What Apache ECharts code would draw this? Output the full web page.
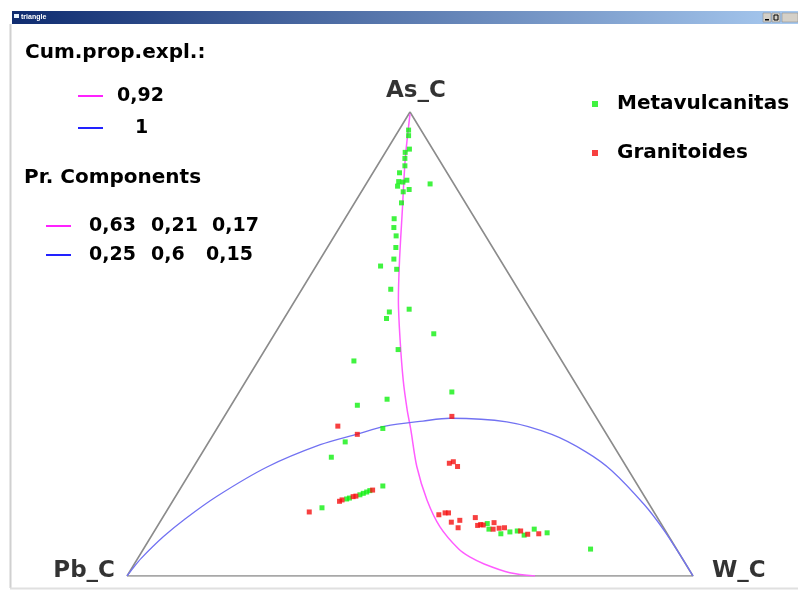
<!DOCTYPE html>
<html>
<head>
<meta charset="utf-8">
<script src="https://cdn.jsdelivr.net/npm/echarts@6/dist/echarts.min.js"></script>
<style>html,body{margin:0;padding:0;background:#fff;}#main{width:798px;height:592px;}</style>
</head>
<body>
<div id="main"></div>
<script>
// Vertex (component) names: [As, Pb, W]
const vertexNames = ['As_C', 'Pb_C', 'W_C'];
const seriesNames = ['Metavulcanitas', 'Granitoides'];
const windowTitle = 'triangle';
const cumPropTitle = 'Cum.prop.expl.:';
const cumPropExpl = ['0,92', '1'];
const prCompTitle = 'Pr. Components';
const prComponents = [['0,63', '0,21', '0,17'], ['0,25', '0,6', '0,15']];

// Compositions in percent: [As, Pb, W]
const metavulcanitas = [
  [96.1,2.2,1.7],[94.9,2.8,2.3],[92.0,4.1,3.9],[91.3,5.2,3.5],[90.0,5.9,4.1],[88.4,6.7,4.9],
  [86.9,8.4,4.7],[85.3,7.9,6.8],[84.9,8.8,6.3],[85.0,9.5,5.5],[84.1,10.2,5.8],[83.3,8.5,8.2],
  [82.8,9.8,7.4],[84.5,4.2,11.3],[80.5,11.3,8.3],[77.0,14.3,8.7],[75.1,15.3,9.6],[73.3,15.8,10.9],
  [70.8,17.1,12.1],[68.3,18.7,13.0],[66.8,21.8,11.4],[66.1,19.3,14.6],[61.8,22.5,15.7],[56.9,25.2,17.9],
  [57.5,21.4,21.1],[55.5,26.4,18.1],[52.2,19.7,28.1],[48.8,27.7,23.5],[46.3,36.7,16.9],[39.7,22.8,37.6],
  [36.8,40.9,22.3],[38.1,35.0,26.9],[31.8,38.9,29.3],[28.9,47.0,24.1],[25.6,51.1,23.3],[19.4,45.1,35.5],
  [16.6,52.9,30.5],[16.8,52.3,30.9],[17.5,50.1,32.4],[17.8,49.3,32.8],[18.1,48.6,33.3],[18.4,47.9,33.7],
  [14.7,58.2,27.1],[11.3,30.7,58.0],[10.1,31.0,58.9],[9.1,29.4,61.5],[9.5,27.6,62.9],[9.7,26.2,64.1],
  [8.8,25.4,65.7],[10.1,23.0,66.9],[9.3,21.1,69.5],[5.8,15.2,79.0]
];
const granitoides = [
  [34.4,25.4,40.2],[32.3,46.6,21.1],[30.5,44.0,25.4],[24.3,30.9,44.8],[24.6,30.0,45.3],[23.6,29.8,46.6],
  [16.1,54.4,29.5],[16.4,53.8,29.8],[17.1,51.5,31.4],[17.2,50.9,31.8],[18.5,47.3,34.1],[13.8,60.9,25.3],
  [13.2,38.3,48.5],[13.6,37.0,49.4],[13.6,36.4,50.0],[11.6,36.9,51.5],[12.0,35.2,52.8],[10.4,36.3,53.3],
  [12.6,32.2,55.3],[10.9,32.6,56.5],[11.1,32.0,57.0],[11.0,31.6,57.5],[11.5,29.4,59.1],[10.1,30.3,59.7],
  [10.3,29.1,60.6],[10.4,28.1,61.5],[9.7,25.6,64.7],[9.0,24.7,66.3],[9.1,22.7,68.2]
];
// Principal component curves: [As, Pb, W]
const pc1Curve = [
  [99.6,0.2,0.2],[89.7,6.0,4.3],[78.9,11.9,9.2],[68.1,17.8,14.1],[59.5,22.3,18.2],[50.9,26.3,22.8],
  [42.2,30.1,27.7],[35.8,32.6,31.6],[31.5,34.1,34.4],[23.6,37.0,39.4],[16.4,38.8,44.8],[10.6,39.4,50.0],
  [5.8,38.5,55.7],[4.1,37.4,58.5],[2.6,35.6,61.8],[0.7,32.0,67.3],[0.0,27.9,72.1]
];
const pc2Curve = [
  [0.0,100.0,0.0],[1.6,98.2,0.2],[3.8,95.6,0.6],[8.5,89.3,2.2],[12.3,83.6,4.1],[17.2,75.5,7.3],
  [23.5,63.5,13.0],[28.3,51.7,20.0],[30.6,44.0,25.4],[32.3,38.2,29.5],[33.4,31.0,35.6],[34.0,25.9,40.1],
  [33.2,16.3,50.5],[30.5,9.7,59.8],[26.7,5.5,67.8],[22.7,3.0,74.3],[15.3,0.9,83.8],[9.9,0.2,89.9],
  [3.8,0.0,96.2],[0.0,0.0,100.0]
];
const vertices = [[100,0,0],[0,100,0],[0,0,100]];

function toXY(c) {
  const s = c[0] + c[1] + c[2];
  const a = c[0] / s, w = c[2] / s;
  return [w + a / 2, a];
}

const FONT = 'DejaVu Sans';
const GREEN = '#10f010';
const RED = '#f51010';
const MAGENTA = '#ff5cff';
const BLUE = '#7272f2';

const chart = echarts.init(document.getElementById('main'), null, {renderer: 'canvas'});

const graphics = [
  // window chrome
  {type: 'rect', shape: {x: 12, y: 11, width: 786, height: 13},
   style: {fill: new echarts.graphic.LinearGradient(0, 0, 1, 0, [{offset: 0, color: '#0f2c70'}, {offset: 1, color: '#a8caf0'}])}, silent: true},
  {type: 'rect', shape: {x: 14, y: 14, width: 5, height: 4}, style: {fill: '#e8f4ff'}, silent: true},
  {type: 'text', x: 21, y: 17.5, style: {text: windowTitle, fill: '#fff', font: 'bold 7px "Liberation Sans"', textVerticalAlign: 'middle'}, silent: true},
  {type: 'rect', shape: {x: 763, y: 13, width: 8, height: 9}, style: {fill: '#d4d0c8', stroke: '#808080', lineWidth: 0.5}, silent: true},
  {type: 'rect', shape: {x: 765, y: 19, width: 4, height: 1.5}, style: {fill: '#000'}, silent: true},
  {type: 'rect', shape: {x: 772, y: 13, width: 8, height: 9}, style: {fill: '#d4d0c8', stroke: '#808080', lineWidth: 0.5}, silent: true},
  {type: 'rect', shape: {x: 774, y: 15, width: 4, height: 5}, style: {fill: 'none', stroke: '#000', lineWidth: 1}, silent: true},
  {type: 'rect', shape: {x: 782, y: 13, width: 16, height: 9}, style: {fill: '#d4d0c8', stroke: '#808080', lineWidth: 0.5}, silent: true},
  {type: 'line', shape: {x1: 10.5, y1: 24, x2: 10.5, y2: 588}, style: {stroke: '#d0d0d0', lineWidth: 2}, silent: true},
  {type: 'line', shape: {x1: 10, y1: 588.5, x2: 798, y2: 588.5}, style: {stroke: '#e0e0e0', lineWidth: 2}, silent: true},
  // left legend
  {type: 'text', x: 25, y: 53, style: {text: cumPropTitle, fill: '#000', font: 'bold 20px "' + FONT + '"', textVerticalAlign: 'middle'}, silent: true},
  {type: 'line', shape: {x1: 78, y1: 96, x2: 103, y2: 96}, style: {stroke: '#ff22ff', lineWidth: 2}, silent: true},
  {type: 'text', x: 117, y: 96, style: {text: cumPropExpl[0], fill: '#000', font: 'bold 19px "' + FONT + '"', textVerticalAlign: 'middle'}, silent: true},
  {type: 'line', shape: {x1: 78, y1: 128, x2: 103, y2: 128}, style: {stroke: '#2222ff', lineWidth: 2}, silent: true},
  {type: 'text', x: 135, y: 128, style: {text: cumPropExpl[1], fill: '#000', font: 'bold 19px "' + FONT + '"', textVerticalAlign: 'middle'}, silent: true},
  {type: 'text', x: 24, y: 178, style: {text: prCompTitle, fill: '#000', font: 'bold 20px "' + FONT + '"', textVerticalAlign: 'middle'}, silent: true},
  {type: 'line', shape: {x1: 46, y1: 226, x2: 71, y2: 226}, style: {stroke: '#ff22ff', lineWidth: 2}, silent: true},
  {type: 'line', shape: {x1: 46, y1: 255, x2: 71, y2: 255}, style: {stroke: '#2222ff', lineWidth: 2}, silent: true}
];
const compX = [[89, 151, 212], [89, 151, 206]];
const compY = [226, 255];
prComponents.forEach((row, i) => row.forEach((t, j) => {
  graphics.push({type: 'text', x: compX[i][j], y: compY[i], style: {text: t, fill: '#000', font: 'bold 19px "' + FONT + '"', textVerticalAlign: 'middle'}, silent: true});
}));

const vertexLabelCfg = [
  {position: 'top', distance: 9, offset: [6, 0]},
  {position: 'left', distance: 12, offset: [0, -5]},
  {position: 'right', distance: 19, offset: [0, -5]}
];

const option = {
  backgroundColor: '#ffffff',
  animation: false,
  grid: {left: 127, top: 112, width: 566, height: 464},
  xAxis: {type: 'value', min: 0, max: 1, show: false},
  yAxis: {type: 'value', min: 0, max: 1, show: false},
  legend: {
    data: seriesNames, orient: 'vertical', left: 587, top: 89, icon: 'rect',
    itemWidth: 6, itemHeight: 6, itemGap: 29,
    textStyle: {fontFamily: FONT, fontWeight: 'bold', fontSize: 20, color: '#000', padding: [0, 0, 0, 14]}
  },
  graphic: graphics,
  series: [
    {
      name: 'triangle', type: 'line', silent: true, symbol: 'none',
      data: [vertices[1], vertices[2], vertices[0], vertices[1]].map(toXY),
      lineStyle: {color: '#8c8c8c', width: 1.6}, z: 1
    },
    {
      name: 'vertices', type: 'scatter', silent: true, symbolSize: 0,
      data: vertices.map((v, i) => ({
        value: toXY(v),
        label: Object.assign({show: true, formatter: vertexNames[i], fontFamily: FONT, fontWeight: 'bold', fontSize: 23, color: '#000'}, vertexLabelCfg[i])
      }))
    },
    {
      name: 'PC1', type: 'line', silent: true, symbol: 'none', smooth: 0.3,
      data: pc1Curve.map(toXY), lineStyle: {color: MAGENTA, width: 1.5}, z: 2
    },
    {
      name: 'PC2', type: 'line', silent: true, symbol: 'none', smooth: 0.3,
      data: pc2Curve.map(toXY), lineStyle: {color: BLUE, width: 1.3}, z: 2
    },
    {
      name: seriesNames[0], type: 'scatter', symbol: 'rect', symbolSize: 5,
      itemStyle: {color: GREEN}, data: metavulcanitas.map(toXY), z: 3
    },
    {
      name: seriesNames[1], type: 'scatter', symbol: 'rect', symbolSize: 5,
      itemStyle: {color: RED}, data: granitoides.map(toXY), z: 4
    }
  ]
};
chart.setOption(option);
</script>
</body>
</html>
